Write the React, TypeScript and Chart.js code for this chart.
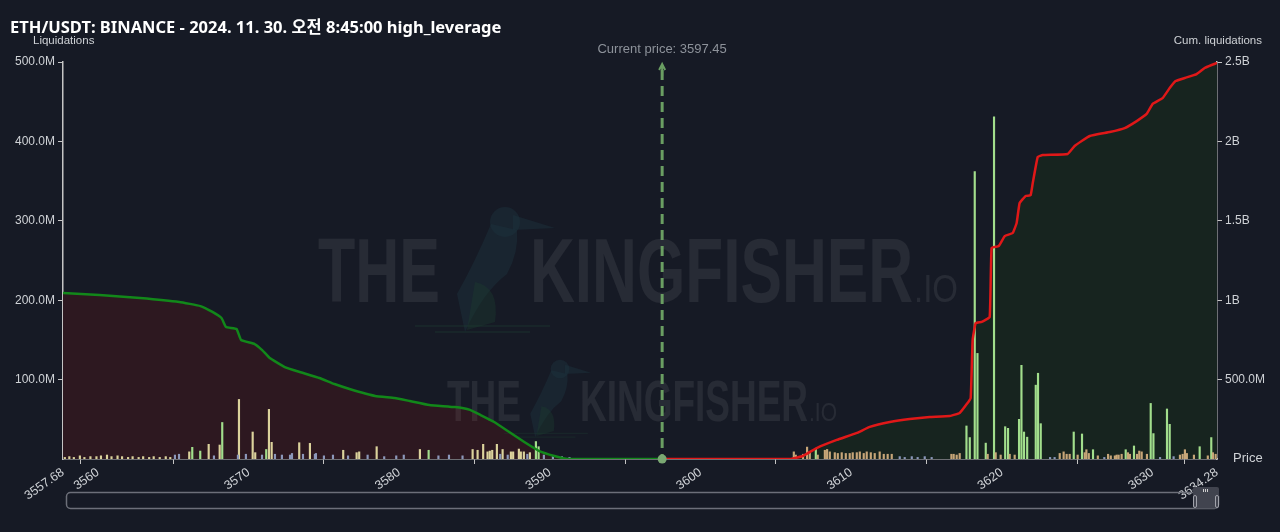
import React, { useEffect, useRef } from "react";
import { Chart, registerables } from "chart.js";

Chart.register(...registerables);

const TITLE = "ETH/USDT: BINANCE - 2024. 11. 30. 오전 8:45:00 high_leverage";
const LEFT_AXIS_TITLE = "Liquidations";
const RIGHT_AXIS_TITLE = "Cum. liquidations";
const X_AXIS_TITLE = "Price";
const CURRENT_PRICE = 3597.45;
const PRICE_MIN = 3557.68;
const PRICE_MAX = 3634.28;

const xTickValues = [3557.68, 3560, 3570, 3580, 3590, 3600, 3610, 3620, 3630, 3634.28];
const leftTickValues = [100, 200, 300, 400, 500];
const rightTickValues = [0.5, 1, 1.5, 2, 2.5];
const rightTickLabels = ["500.0M", "1B", "1.5B", "2B", "2.5B"];

// cumulative liquidations below current price (billions)
const cumDownPrices = [3557.68, 3560.1, 3562.8, 3565.4, 3566.8, 3567.6, 3568.2, 3568.5, 3569.2, 3569.5, 3570.4, 3570.9, 3571.4, 3572.4, 3573.4, 3574.7, 3575.7, 3576.7, 3578.4, 3579.7, 3580.7, 3582.0, 3583.7, 3584.7, 3585.4, 3586.3, 3587.3, 3588.3, 3589.3, 3590.3, 3591.2, 3597.45];
const cumDownValues = [1.045, 1.033, 1.014, 0.989, 0.963, 0.926, 0.888, 0.831, 0.819, 0.749, 0.724, 0.686, 0.636, 0.579, 0.548, 0.51, 0.472, 0.441, 0.397, 0.384, 0.365, 0.34, 0.327, 0.309, 0.277, 0.233, 0.17, 0.107, 0.05, 0.019, 0, 0];

// cumulative liquidations above current price (billions)
const cumUpPrices = [3597.45, 3605.92, 3606.79, 3607.71, 3609.04, 3610.37, 3611.23, 3612.56, 3613.88, 3615.21, 3616.54, 3617.2, 3617.67, 3617.93, 3618.06, 3618.26, 3618.66, 3619.19, 3619.32, 3619.79, 3620.19, 3620.72, 3620.98, 3621.18, 3621.58, 3621.91, 3622.05, 3622.38, 3622.71, 3624.37, 3624.83, 3625.83, 3627.16, 3628.15, 3628.95, 3629.61, 3630.01, 3630.67, 3631.14, 3631.53, 3632.13, 3632.93, 3633.46, 3633.92, 3634.28];
const cumUpValues = [0, 0, 0.019, 0.069, 0.12, 0.164, 0.202, 0.233, 0.252, 0.264, 0.271, 0.29, 0.346, 0.384, 0.749, 0.856, 0.863, 0.894, 1.329, 1.341, 1.404, 1.423, 1.486, 1.612, 1.656, 1.662, 1.738, 1.902, 1.914, 1.921, 1.971, 2.034, 2.059, 2.084, 2.128, 2.173, 2.236, 2.273, 2.336, 2.38, 2.399, 2.424, 2.462, 2.481, 2.494];

// liquidation bars (millions) – pale yellow group
const yellowPrices = [3557.8, 3558.1, 3558.4, 3558.8, 3559.1, 3559.5, 3559.9, 3560.2, 3560.6, 3560.9, 3561.3, 3561.6, 3562.0, 3562.3, 3562.7, 3563.0, 3563.4, 3563.7, 3564.1, 3564.5, 3564.8, 3566.06, 3567.35, 3568.08, 3569.36, 3570.27, 3570.44, 3571.35, 3571.53, 3573.36, 3574.07, 3576.28, 3577.17, 3577.34, 3578.5, 3581.37, 3584.87, 3585.2, 3585.57, 3585.86, 3586.01, 3586.17, 3586.48, 3586.86, 3587.41, 3587.56, 3587.94, 3588.07, 3588.27, 3588.67];
const yellowValues = [2, 3, 2, 4, 2, 3, 3, 4, 5, 3, 4, 3, 2, 3, 2, 3, 2, 3, 2, 3, 2, 9, 18.5, 17.6, 75, 34, 8, 62.5, 21, 20.5, 19.7, 11, 8, 9, 15.5, 12, 12, 11, 18.5, 9, 10, 11, 18.5, 12, 9, 9, 12.5, 9, 9, 8];

// pale green group
const greenPrices = [3566.26, 3566.79, 3568.25, 3571.17, 3581.95, 3589.07, 3589.25, 3607.65, 3617.65, 3617.87, 3618.2, 3618.38, 3618.93, 3619.48, 3620.22, 3620.41, 3621.14, 3621.3, 3621.47, 3621.68, 3622.25, 3622.4, 3622.58, 3624.77, 3625.32, 3626.05, 3628.22, 3628.77, 3629.88, 3630.06, 3630.96, 3631.14, 3633.13, 3633.9];
const greenValues = [14.7, 10, 46, 12, 11, 22, 15.5, 13.5, 41.6, 27, 362, 133, 20, 431, 40.7, 38.6, 50, 118, 34, 27.5, 93, 108, 44.5, 34, 31.5, 11.7, 11.7, 16.4, 70, 32, 63, 43.7, 15.5, 27];

// tan group
const tanPrices = [3606.19, 3606.32, 3606.8, 3607.07, 3607.25, 3607.78, 3608.25, 3608.4, 3608.58, 3608.91, 3609.11, 3609.37, 3609.64, 3609.9, 3610.1, 3610.37, 3610.57, 3610.83, 3611.03, 3611.3, 3611.56, 3611.89, 3612.16, 3612.42, 3612.69, 3616.65, 3616.8, 3617.0, 3617.2, 3619.06, 3619.59, 3619.92, 3620.52, 3620.85, 3623.84, 3624.1, 3624.3, 3624.5, 3625.03, 3625.5, 3625.61, 3625.77, 3626.37, 3627.05, 3627.23, 3627.5, 3627.62, 3627.75, 3627.95, 3628.37, 3628.5, 3628.97, 3629.12, 3629.28, 3629.63, 3631.82, 3632.0, 3632.15, 3632.28, 3632.75, 3633.67, 3634.01, 3634.19];
const tanValues = [9, 5, 6, 15, 9, 5, 11, 12, 9, 8, 7, 8, 7, 7, 8, 8, 9, 7, 9, 8, 7, 9, 6, 6, 6, 6, 6, 5, 7, 6, 8, 5, 6, 5, 7, 9, 6, 6, 5, 8, 11.7, 7, 4, 6, 4, 4, 5, 5, 6, 8, 6, 6, 10, 9, 6, 5, 6, 11.7, 7, 5, 4, 8, 6];

// grey-blue group
const greyPrices = [3565.11, 3565.38, 3567.7, 3569.29, 3569.82, 3570.89, 3571.75, 3572.21, 3572.75, 3572.88, 3573.61, 3574.4, 3574.47, 3575.0, 3575.6, 3576.6, 3577.9, 3579.0, 3579.8, 3580.3, 3582.6, 3583.3, 3584.2, 3586.7, 3587.2, 3588.5, 3589.6, 3590.2, 3590.8, 3591.3, 3613.22, 3613.55, 3614.02, 3614.41, 3614.88, 3615.34, 3623.2, 3623.5, 3626.8, 3630.5, 3631.4];
const greyValues = [5, 6, 4, 5, 6, 5, 6, 5, 5, 7, 6, 6, 7, 4, 5, 4, 5, 3, 4, 5, 4, 5, 4, 6, 5, 6, 5, 4, 3, 2, 3, 2, 3, 2, 3, 2, 2, 2, 2, 2, 3];

const BG = "#161a25";
const AXIS = "#c4c4c4";
const TEXT = "#cfd2d6";
const NARROW = '"Liberation Sans Narrow", "Liberation Sans", sans-serif';

function pts(xs: number[], ys: number[]) {
  return xs.map((x, i) => ({ x, y: ys[i] }));
}

function drawWord(ctx: CanvasRenderingContext2D, text: string, x: number, baseline: number, capH: number, width: number, weight: string) {
  const size = capH / 0.72;
  ctx.font = `${weight} ${size}px ${NARROW}`;
  const w = ctx.measureText(text).width;
  ctx.save();
  ctx.translate(x, baseline);
  ctx.scale(width / w, 1);
  ctx.textAlign = "left";
  ctx.textBaseline = "alphabetic";
  ctx.fillText(text, 0, 0);
  ctx.restore();
}

function drawBird(ctx: CanvasRenderingContext2D, hx: number, hy: number, s: number) {
  ctx.save();
  ctx.translate(hx, hy);
  ctx.scale(s, s);
  ctx.fillStyle = "rgba(28,52,62,0.45)";
  ctx.beginPath();
  ctx.arc(0, 0, 15, 0, Math.PI * 2);
  ctx.fill();
  ctx.beginPath();
  ctx.moveTo(8, -7);
  ctx.lineTo(50, 6);
  ctx.lineTo(8, 8);
  ctx.closePath();
  ctx.fill();
  ctx.beginPath();
  ctx.moveTo(-14, 2);
  ctx.quadraticCurveTo(-30, 40, -48, 72);
  ctx.lineTo(-40, 110);
  ctx.quadraticCurveTo(-22, 70, 2, 52);
  ctx.quadraticCurveTo(14, 30, 12, 8);
  ctx.closePath();
  ctx.fill();
  ctx.fillStyle = "rgba(28,60,48,0.4)";
  ctx.beginPath();
  ctx.moveTo(-30, 60);
  ctx.quadraticCurveTo(-5, 65, -10, 100);
  ctx.lineTo(-38, 108);
  ctx.closePath();
  ctx.fill();
  ctx.strokeStyle = "rgba(28,60,48,0.35)";
  ctx.lineWidth = 2;
  ctx.beginPath();
  ctx.moveTo(-90, 104);
  ctx.lineTo(45, 104);
  ctx.moveTo(-70, 110);
  ctx.lineTo(25, 110);
  ctx.stroke();
  ctx.restore();
}

const decorPlugin = {
  id: "decor",
  beforeDraw(chart: any) {
    const ctx = chart.ctx as CanvasRenderingContext2D;
    ctx.save();
    ctx.fillStyle = BG;
    ctx.fillRect(0, 0, chart.width, chart.height);
    ctx.restore();
  },
  afterDatasetDraw(chart: any, args: any) {
    if (args.index !== 1) return;
    const ctx = chart.ctx as CanvasRenderingContext2D;
    ctx.save();
    ctx.fillStyle = "rgba(255,255,255,0.075)";
    drawWord(ctx, "THE", 318, 302, 65, 122, "bold");
    drawWord(ctx, "KINGFISHER", 530, 302, 65, 383, "bold");
    drawWord(ctx, ".IO", 914, 302, 28, 44, "normal");
    drawWord(ctx, "THE", 447, 421, 41, 74, "bold");
    drawWord(ctx, "KINGFISHER", 580, 421, 41, 228, "bold");
    drawWord(ctx, ".IO", 809, 421, 18, 28, "normal");
    drawBird(ctx, 505, 222, 1);
    drawBird(ctx, 560, 369, 0.62);
    ctx.restore();
  },
  afterDraw(chart: any) {
    const ctx = chart.ctx as CanvasRenderingContext2D;
    const area = chart.chartArea;
    const xs = chart.scales.x;
    ctx.save();
    // title
    ctx.fillStyle = "#ffffff";
    ctx.textBaseline = "alphabetic";
    ctx.textAlign = "left";
    ctx.font = 'bold 16.5px "Noto Sans", "Noto Sans CJK KR", sans-serif';
    ctx.fillText(TITLE, 10, 33);
    // axis titles
    ctx.font = `11.5px ${NARROW}`;
    ctx.fillStyle = TEXT;
    ctx.textBaseline = "middle";
    ctx.textAlign = "left";
    ctx.fillText(LEFT_AXIS_TITLE, 33, 41);
    ctx.textAlign = "right";
    ctx.fillText(RIGHT_AXIS_TITLE, 1262, 41);
    ctx.textAlign = "left";
    ctx.font = `13px ${NARROW}`;
    ctx.fillText(X_AXIS_TITLE, 1233, 458);
    // current price
    const cx = xs.getPixelForValue(CURRENT_PRICE);
    ctx.font = `13px ${NARROW}`;
    ctx.fillStyle = "#8d929a";
    ctx.textAlign = "center";
    ctx.fillText(`Current price: ${CURRENT_PRICE}`, cx, 49);
    ctx.strokeStyle = "#6a9e62";
    ctx.lineWidth = 3;
    ctx.setLineDash([10, 6]);
    ctx.beginPath();
    ctx.moveTo(cx, area.top + 8);
    ctx.lineTo(cx, area.bottom);
    ctx.stroke();
    ctx.setLineDash([]);
    ctx.lineWidth = 2;
    ctx.beginPath();
    ctx.moveTo(cx, area.top + 14);
    ctx.lineTo(cx, area.top + 2);
    ctx.moveTo(cx - 3, area.top + 8);
    ctx.lineTo(cx, area.top + 2);
    ctx.lineTo(cx + 3, area.top + 8);
    ctx.stroke();
    ctx.fillStyle = "#7aa872";
    ctx.beginPath();
    ctx.arc(cx, area.bottom, 4.5, 0, Math.PI * 2);
    ctx.fill();
    // scrollbar
    ctx.strokeStyle = "#6c6f79";
    ctx.lineWidth = 1.5;
    ctx.beginPath();
    ctx.roundRect(66.5, 492.5, 1152, 16, 4);
    ctx.stroke();
    ctx.fillStyle = "#41444f";
    ctx.beginPath();
    ctx.roundRect(1193, 487, 26, 8, 2);
    ctx.fill();
    ctx.beginPath();
    ctx.roundRect(1193, 492.5, 26, 16, 2);
    ctx.fill();
    ctx.strokeStyle = "#a0a2aa";
    ctx.lineWidth = 1;
    ctx.beginPath();
    ctx.roundRect(1193.5, 495.5, 3, 12, 1.5);
    ctx.roundRect(1215.5, 495.5, 3, 12, 1.5);
    ctx.stroke();
    ctx.fillStyle = "#d0d0d0";
    ctx.fillRect(1203, 489, 1, 3);
    ctx.fillRect(1205, 489, 1, 3);
    ctx.fillRect(1207, 489, 1, 3);
    ctx.restore();
  },
};

export default function App() {
  const ref = useRef<HTMLCanvasElement | null>(null);

  useEffect(() => {
    document.body.style.margin = "0";
    document.body.style.background = BG;
    const canvas = ref.current;
    if (!canvas) return;
    const barCommon = {
      type: "bar" as const,
      yAxisID: "y",
      barThickness: 1.5,
      grouped: false,
      borderWidth: 0,
      order: 2,
    };
    const chart = new Chart(canvas, {
      type: "bar",
      data: {
        datasets: [
          {
            type: "line",
            label: "fillDown",
            data: pts(cumDownPrices, cumDownValues),
            yAxisID: "y2",
            borderColor: "transparent",
            borderWidth: 0,
            pointRadius: 0,
            fill: "origin",
            backgroundColor: "#2d1820",
            tension: 0.1,
            order: 6,
          } as any,
          {
            type: "line",
            label: "fillUp",
            data: pts(cumUpPrices, cumUpValues),
            yAxisID: "y2",
            borderColor: "transparent",
            borderWidth: 0,
            pointRadius: 0,
            fill: "origin",
            backgroundColor: "#17241f",
            tension: 0.1,
            order: 5,
          } as any,
          { ...barCommon, label: "grey", data: pts(greyPrices, greyValues), backgroundColor: "#8c98bb" } as any,
          { ...barCommon, label: "yellow", data: pts(yellowPrices, yellowValues), backgroundColor: "#dcd39c" } as any,
          { ...barCommon, label: "tan", data: pts(tanPrices, tanValues), backgroundColor: "#c7a678" } as any,
          { ...barCommon, label: "green", data: pts(greenPrices, greenValues), backgroundColor: "#a2de8c" } as any,
          {
            type: "line",
            label: "cumDown",
            data: pts(cumDownPrices, cumDownValues),
            yAxisID: "y2",
            borderColor: "#12881a",
            borderWidth: 2.5,
            pointRadius: 0,
            fill: false,
            tension: 0.1,
            order: 1,
          } as any,
          {
            type: "line",
            label: "cumUp",
            data: pts(cumUpPrices, cumUpValues),
            yAxisID: "y2",
            borderColor: "#e01818",
            borderWidth: 2.5,
            pointRadius: 0,
            fill: false,
            tension: 0.1,
            order: 1,
          } as any,
        ],
      },
      options: {
        responsive: false,
        devicePixelRatio: 1,
        animation: false,
        layout: { padding: { top: 62, left: 0, right: 0, bottom: 0 } },
        plugins: {
          legend: { display: false },
          tooltip: { enabled: false },
          title: { display: false },
        },
        scales: {
          x: {
            type: "linear",
            min: PRICE_MIN,
            max: PRICE_MAX,
            offset: false,
            afterBuildTicks: (scale: any) => {
              scale.ticks = xTickValues.map((v) => ({ value: v }));
            },
            afterFit: (scale: any) => {
              scale.height = 73;
            },
            ticks: {
              autoSkip: false,
              minRotation: 35,
              maxRotation: 35,
              color: TEXT,
              padding: 1,
              font: { family: NARROW, size: 12.5 },
              callback: (v: any) => (Number.isInteger(v) ? String(v) : Number(v).toFixed(2)),
            },
            grid: { drawOnChartArea: false, drawTicks: true, tickLength: 5, color: AXIS },
            border: { display: true, color: AXIS, width: 1.5 },
          },
          y: {
            type: "linear",
            position: "left",
            min: 0,
            max: 500,
            afterBuildTicks: (scale: any) => {
              scale.ticks = leftTickValues.map((v) => ({ value: v }));
            },
            afterFit: (scale: any) => {
              scale.width = 63;
            },
            ticks: {
              color: TEXT,
              padding: 3,
              font: { family: NARROW, size: 12 },
              callback: (v: any) => `${Number(v).toFixed(1)}M`,
            },
            grid: { drawOnChartArea: false, drawTicks: true, tickLength: 5, color: AXIS },
            border: { display: true, color: AXIS, width: 1.5 },
          },
          y2: {
            type: "linear",
            position: "right",
            min: 0,
            max: 2.5,
            afterBuildTicks: (scale: any) => {
              scale.ticks = rightTickValues.map((v) => ({ value: v }));
            },
            afterFit: (scale: any) => {
              scale.width = 63;
            },
            ticks: {
              color: TEXT,
              padding: 3,
              font: { family: NARROW, size: 12 },
              callback: (v: any) => {
                const i = rightTickValues.indexOf(Number(v));
                return i >= 0 ? rightTickLabels[i] : "";
              },
            },
            grid: { drawOnChartArea: false, drawTicks: true, tickLength: 5, color: AXIS },
            border: { display: true, color: AXIS, width: 1.5 },
          },
        },
      } as any,
      plugins: [decorPlugin as any],
    });
    return () => chart.destroy();
  }, []);

  return (
    <div style={{ position: "fixed", left: 0, top: 0, width: 1280, height: 532, background: BG }}>
      <canvas ref={ref} width={1280} height={532} style={{ display: "block", width: 1280, height: 532 }} />
    </div>
  );
}
